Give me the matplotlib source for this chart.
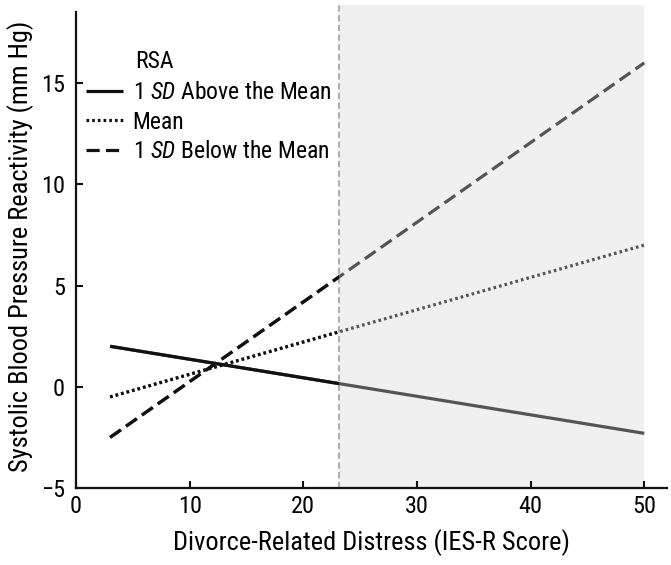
import matplotlib
matplotlib.use("Agg")
import matplotlib.pyplot as plt
from matplotlib.lines import Line2D
from matplotlib.patches import Rectangle
import matplotlib.font_manager as fm

names = sorted({f.name for f in fm.fontManager.ttflist})
fam = "Liberation Sans Narrow" if "Liberation Sans Narrow" in names else ("Roboto Condensed" if "Roboto Condensed" in names else "Liberation Sans")

plt.rcParams['font.family'] = [fam, 'DejaVu Sans']
plt.rcParams['mathtext.fontset'] = 'custom'
plt.rcParams['mathtext.it'] = fam + ':italic'
plt.rcParams['mathtext.rm'] = fam
plt.rcParams['lines.scale_dashes'] = False

# data
x = [3, 50]
above = [2.0, -2.3]
mean = [-0.5, 7.0]
below = [-2.5, 16.0]
jn_point = 23.1
labels = [r"1 $\it{SD}$ Above the Mean", "Mean", r"1 $\it{SD}$ Below the Mean"]
xticks = [0, 10, 20, 30, 40, 50]
yticks = [-5, 0, 5, 10, 15]

FS_LEG = 17
FS_TICK = 17.5
FS_LAB = 19
fig = plt.figure(figsize=(6.71, 5.65), dpi=100)
ax = fig.add_axes([76/671, 77/565, (667-76)/671, (560-77)/565])
ax.set_xlim(0, 52)
ax.set_ylim(-5, 18.86)

# shaded region
ax.axvspan(jn_point, 50, color='#f0f0f0', zorder=0, lw=0)
ax.axvline(jn_point, color='#a0a0a0', lw=1.2, dashes=(4.5, 2.5), zorder=1)

styles = [dict(ls='-'), dict(dashes=(1.9, 2.2)), dict(dashes=(9.5, 4.5))]
series = [above, mean, below]
for s, st in zip(series, styles):
    ax.plot(x, s, color='#555555', lw=2.3, solid_capstyle='butt', dash_capstyle='butt', zorder=2, **st)
    ln, = ax.plot(x, s, color='#111111', lw=2.3, solid_capstyle='butt', dash_capstyle='butt', zorder=3, **st)
    ln.set_clip_path(Rectangle((-10, -20), jn_point + 10, 60, transform=ax.transData))

handles = [Line2D([], [], color='#111111', lw=2.3, solid_capstyle='butt', dash_capstyle='butt', **st) for st in styles]
leg = ax.legend(handles, labels, loc='upper left', bbox_to_anchor=(86/671, 1 - 81/565),
                bbox_transform=fig.transFigure, frameon=False, fontsize=FS_LEG,
                handlelength=1.55, handletextpad=0.42, labelspacing=0.28, borderpad=0, borderaxespad=0)
fig.text(135/671, 1 - 68/565, "RSA", fontsize=FS_LEG, ha='left', va='baseline')

for sp in ['top', 'right']:
    ax.spines[sp].set_visible(False)
ax.spines['left'].set_bounds(-5, 18.5)
for sp in ['left', 'bottom']:
    ax.spines[sp].set_linewidth(1.6)
    ax.spines[sp].set_color('#111111')

ax.set_xticks(xticks)
ax.set_yticks(yticks)
ax.set_yticklabels([str(v).replace('-', '\u2212') for v in yticks])
ax.tick_params(direction='in', length=5, width=1.5, labelsize=FS_TICK, color='#111111', pad=5)
ax.tick_params(axis='y', pad=8)
ax.set_xlabel("Divorce-Related Distress (IES-R Score)", fontsize=FS_LAB, labelpad=8)
ax.set_ylabel("Systolic Blood Pressure Reactivity (mm Hg)", fontsize=FS_LAB, labelpad=5)

fig.savefig("out.png", dpi=100)
